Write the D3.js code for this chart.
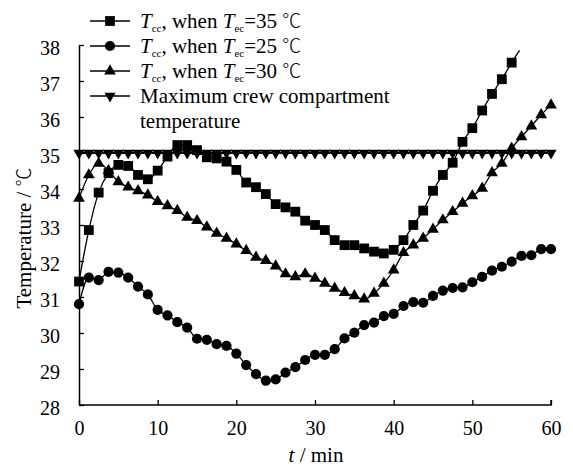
<!DOCTYPE html>
<html><head><meta charset="utf-8">
<script src="https://cdn.jsdelivr.net/npm/d3@7/dist/d3.min.js"></script>
<style>
html,body{margin:0;padding:0;background:#fff;}
svg{display:block;}
</style></head>
<body><svg id="chart" width="573" height="468"></svg>
<script>
// time axis (min)
const times = [0,1.25,2.5,3.75,5,6.25,7.5,8.75,10,11.25,12.5,13.75,15,16.25,17.5,18.75,20,21.25,22.5,23.75,25,26.25,27.5,28.75,30,31.25,32.5,33.75,35,36.25,37.5,38.75,40,41.25,42.5,43.75,45,46.25,47.5,48.75,50,51.25,52.5,53.75,55,56.25,57.5,58.75,60];
// T_cc when T_ec = 35 (markers up to 55 min)
const tcc35 = [31.43,32.86,33.90,34.44,34.67,34.64,34.39,34.27,34.51,34.90,35.22,35.22,35.08,34.88,34.85,34.76,34.53,34.18,34.05,33.86,33.58,33.49,33.37,33.12,33.00,32.86,32.58,32.44,32.44,32.35,32.26,32.21,32.31,32.58,33.00,33.40,33.95,34.39,34.73,35.31,35.69,36.18,36.64,37.05,37.51];
// curve continuation beyond last marker
const tcc35TailT = [56.0];
const tcc35Tail = [37.85];
// T_cc when T_ec = 25
const tcc25 = [30.80,31.54,31.47,31.70,31.68,31.54,31.29,31.07,30.64,30.49,30.30,30.15,29.84,29.81,29.69,29.64,29.43,29.11,28.86,28.68,28.71,28.90,29.05,29.25,29.39,29.39,29.55,29.85,30.01,30.22,30.29,30.47,30.53,30.75,30.86,30.84,31.03,31.18,31.25,31.27,31.41,31.56,31.73,31.84,31.98,32.14,32.16,32.33,32.33];
// T_cc when T_ec = 30
const tcc30 = [33.74,34.39,34.71,34.51,34.20,34.05,33.95,33.83,33.65,33.53,33.40,33.21,33.12,32.94,32.77,32.63,32.47,32.29,32.10,32.01,31.86,31.64,31.56,31.64,31.52,31.38,31.24,31.12,31.03,30.94,31.10,31.38,31.75,32.23,32.44,32.63,32.88,33.14,33.37,33.60,33.81,34.02,34.45,34.71,35.13,35.45,35.75,36.06,36.33];
// Maximum crew compartment temperature
const tmax = [35,35,35,35,35,35,35,35,35,35,35,35,35,35,35,35,35,35,35,35,35,35,35,35,35,35,35,35,35,35,35,35,35,35,35,35,35,35,35,35,35,35,35,35,35,35,35,35,35];

const xTicks = [0,10,20,30,40,50,60];
const yTicks = [28,29,30,31,32,33,34,35,36,37,38];
const legendLabels = [
  {ec:"35", type:"square"},
  {ec:"25", type:"circle"},
  {ec:"30", type:"triUp"},
  {text:["Maximum crew compartment","temperature"], type:"triDown"}
];

const FONT = "Liberation Serif";
const CJK = "Noto Sans CJK SC";
const svg = d3.select("#chart");
const x = d3.scaleLinear().domain([0,60]).range([79,551]);
const y = d3.scaleLinear().domain([28,38]).range([405,45]);

const sym = {
  square: d3.symbol().type(d3.symbolSquare).size(96)(),
  circle: d3.symbol().type(d3.symbolCircle).size(82)(),
  triUp: d3.symbol().type(d3.symbolTriangle).size(60)(),
  triDown: d3.symbol().type(d3.symbolTriangle).size(54)()
};

// axes
const xAxis = d3.axisBottom(x).tickValues(xTicks).tickSizeInner(-5).tickSizeOuter(0).tickPadding(16);
const yAxis = d3.axisLeft(y).tickValues(yTicks).tickSizeInner(-5).tickSizeOuter(0).tickPadding(19);
const gx = svg.append("g").attr("transform","translate(0,405)").call(xAxis);
const gy = svg.append("g").attr("transform","translate(79,0)").call(yAxis);
[gx,gy].forEach(g=>{
  g.attr("font-family",FONT).attr("font-size",20);
  g.selectAll("path.domain").attr("stroke","#000").attr("stroke-width",1.5);
  g.selectAll(".tick line").attr("stroke","#000").attr("stroke-width",1.3);
  g.selectAll(".tick text").attr("fill","#000").attr("font-family",FONT).attr("font-size",20);
});
gy.selectAll(".tick text").attr("dy","0.45em");
// right end tick on x axis
gx.select("path.domain").attr("d","M79,0H551V-5");

const line = d3.line().x(d=>x(d[0])).y(d=>y(d[1])).curve(d3.curveMonotoneX);

function series(vals, type, extraT, extraV, width){
  const pts = vals.map((v,i)=>[times[i],v]);
  const lpts = pts.concat((extraT||[]).map((t,i)=>[t,extraV[i]]));
  svg.append("path").datum(lpts).attr("d",line).attr("fill","none").attr("stroke","#000").attr("stroke-width",width||1.3);
  svg.append("g").selectAll("path").data(pts).join("path")
    .attr("d",sym[type])
    .attr("transform",d=>`translate(${x(d[0])},${y(d[1])})${type==="triDown"?" rotate(180)":""}`)
    .attr("fill","#000");
}
series(tmax,"triDown",null,null,2.2);
series(tcc30,"triUp");
series(tcc25,"circle");
series(tcc35,"square",tcc35TailT,tcc35Tail);

// y label
const ylab = svg.append("text").attr("transform","translate(31,238) rotate(-90)").attr("text-anchor","middle")
  .attr("font-family",FONT).attr("font-size",21);
ylab.append("tspan").text("Temperature / ");
ylab.append("tspan").attr("font-family",CJK).attr("font-weight",300).attr("font-size",19).text("℃");
// x label
const xl = svg.append("text").attr("x",316).attr("y",462).attr("text-anchor","middle")
  .attr("font-family",FONT).attr("font-size",21);
xl.append("tspan").attr("font-style","italic").text("t");
xl.append("tspan").text(" / min");

// legend
const lg = svg.append("g");
const rowBase = [28,53,78,103];
legendLabels.forEach((L,i)=>{
  const b = rowBase[i], my = b-7;
  lg.append("line").attr("x1",90).attr("x2",130).attr("y1",my).attr("y2",my).attr("stroke","#000").attr("stroke-width",1.5);
  lg.append("path").attr("d",sym[L.type]).attr("fill","#000")
    .attr("transform",`translate(110,${my})${L.type==="triDown"?" rotate(180)":""}`);
  if(L.ec){
    const t = lg.append("text").attr("x",140).attr("y",b).attr("font-family",FONT).attr("font-size",21);
    t.append("tspan").attr("font-style","italic").text("T");
    t.append("tspan").attr("font-size",11).attr("dy",4).text("cc");
    t.append("tspan").attr("dy",-4).text(", when ");
    t.append("tspan").attr("font-style","italic").text("T");
    t.append("tspan").attr("font-size",11).attr("dy",4).text("ec");
    t.append("tspan").attr("dy",-4).text("="+L.ec+" ");
    t.append("tspan").attr("font-family",CJK).attr("font-weight",300).attr("font-size",19).text("℃");
  } else {
    L.text.forEach((s,j)=>{
      lg.append("text").attr("x",140).attr("y",b+j*25).attr("font-family",FONT).attr("font-size",21).text(s);
    });
  }
});
</script></body></html>
